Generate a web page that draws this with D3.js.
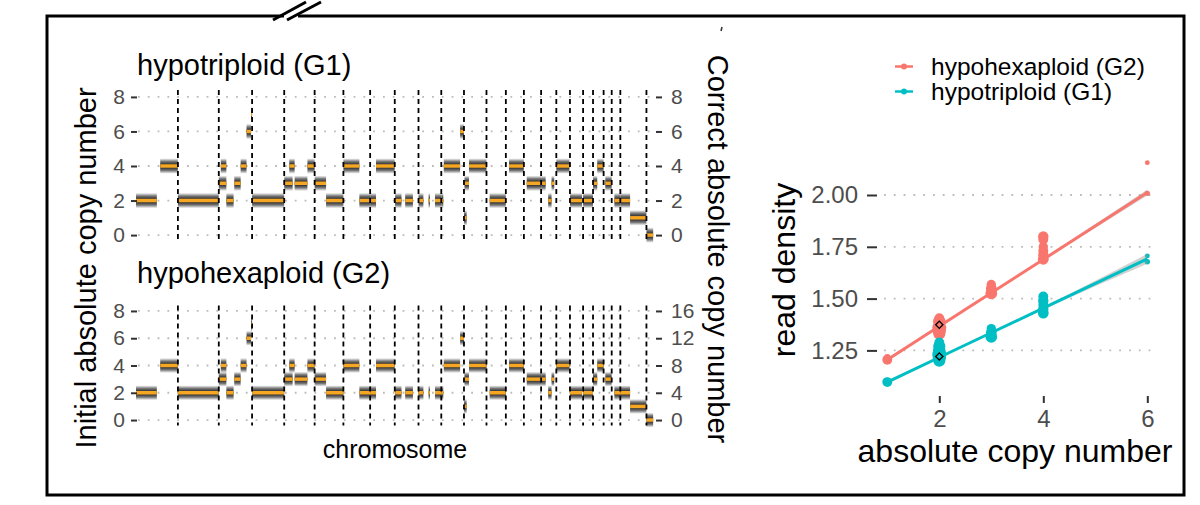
<!DOCTYPE html>
<html>
<head>
<meta charset="utf-8">
<script src="https://d3js.org/d3.v7.min.js"></script>
<style>
body { margin: 0; background: #fff; }
svg text { font-family: "Liberation Sans", Arial, Helvetica, sans-serif; }
</style>
</head>
<body>
<div id="plot"></div>
<script>
// chromosome sizes (hg19, Mb)
var chromNames = ["1","2","3","4","5","6","7","8","9","10","11","12","13","14","15","16","17","18","19","20","21","22","X","Y"];
var chromLengths = [249.25, 243.2, 198.0, 191.15, 180.9, 171.1, 159.1, 146.4, 141.2, 135.5, 135.0, 133.85,
                    115.2, 107.3, 102.5, 90.35, 81.2, 78.1, 59.1, 63.0, 48.1, 51.3, 155.3, 59.4];

// copy number segments: [chromosome, start Mb, end Mb, copy number]
var segments = [
    ["1", 0, 124, 2], ["1", 144, 249, 4],
    ["2", 0, 243, 2],
    ["3", 0, 45, 3], ["3", 12, 45, 4], ["3", 45, 88, 2], ["3", 92, 130, 3], ["3", 130, 165, 4], ["3", 165, 192, 6], ["3", 192, 198, 7],
    ["4", 0, 191, 2],
    ["5", 0, 50, 3], ["5", 30, 62, 4], ["5", 62, 138, 3], ["5", 138, 181, 4],
    ["6", 0, 68, 3], ["6", 68, 171, 2],
    ["7", 0, 95, 4], ["7", 95, 159, 2],
    ["8", 0, 35, 2], ["8", 35, 146, 4],
    ["9", 2, 40, 2], ["9", 62, 108, 2],
    ["10", 0, 29, 2], ["10", 60, 68, 2], ["10", 98, 135, 2],
    ["11", 0, 12, 2], ["11", 15, 112, 4], ["11", 112, 135, 6],
    ["12", 0, 16, 1], ["12", 3, 30, 3], ["12", 30, 134, 4],
    ["13", 19, 115, 2],
    ["14", 19, 107, 4],
    ["15", 17, 102, 3],
    ["16", 0, 27, 3], ["16", 42, 62, 2], ["16", 62, 78, 3],
    ["17", 0, 78, 4],
    ["18", 0, 72, 2],
    ["19", 0, 59, 2],
    ["20", 0, 25, 3], ["20", 25, 63, 4],
    ["21", 10, 48, 3],
    ["22", 16, 51, 2],
    ["X", 0, 58, 2], ["X", 58, 155, 1],
    ["Y", 0, 40, 0]
];

var leftTicks = [0, 2, 4, 6, 8];
var rightTicksG1 = [0, 2, 4, 6, 8];
var rightTicksG2 = [0, 4, 8, 12, 16];

// read density per segment (right panel)
var groups = ["hypohexaploid (G2)", "hypotriploid (G1)"];
var colors = ["#F8766D", "#00BFC4"];
var g2Cn      = [1, 1, 2, 2, 2, 2, 2, 2, 3, 3, 3, 4, 4, 4, 4, 4, 4, 6, 6];
var g2Density = [1.205, 1.218, 1.33, 1.345, 1.36, 1.375, 1.39, 1.405, 1.525, 1.548, 1.568, 1.69, 1.71, 1.73, 1.75, 1.785, 1.80, 2.008, 2.156];
var g2Mb      = [100, 40, 150, 180, 200, 120, 160, 100, 140, 120, 90, 120, 110, 100, 90, 100, 110, 30, 24];
var g1Cn      = [1, 1, 2, 2, 2, 2, 2, 2, 3, 3, 3, 4, 4, 4, 4, 4, 6, 6];
var g1Density = [1.097, 1.103, 1.20, 1.215, 1.23, 1.25, 1.27, 1.288, 1.315, 1.335, 1.355, 1.43, 1.45, 1.47, 1.49, 1.51, 1.678, 1.706];
var g1Mb      = [100, 40, 150, 180, 200, 160, 150, 100, 140, 120, 90, 120, 110, 100, 110, 100, 30, 24];
// fitted lines with confidence band: copy number, fit, lower, upper
var fitCn    = [1, 2.5, 4, 6];
var g2Fit    = [1.205, 1.447, 1.689, 2.012];
var g2Lower  = [1.198, 1.443, 1.684, 1.998];
var g2Upper  = [1.212, 1.451, 1.694, 2.026];
var g1Fit    = [1.097, 1.276, 1.454, 1.692];
var g1Lower  = [1.089, 1.272, 1.448, 1.668];
var g1Upper  = [1.105, 1.280, 1.460, 1.716];
// expected values marked with a diamond
var markCn = [2, 2];
var markDensity = [1.374, 1.221];
var rdTicks = [1.25, 1.50, 1.75, 2.00];
var cnTicks = [2, 4, 6];

var width = 1200, height = 505;
var svg = d3.select("#plot").append("svg").attr("width", width).attr("height", height);

// chromosome offsets
var offsets = {};
var cum = 0;
var boundaries = [];
chromNames.forEach(function(c, i) {
    offsets[c] = cum;
    cum += chromLengths[i];
    if (i < chromNames.length - 1) boundaries.push(cum);
});

var xGenome = d3.scaleLinear().domain([0, 3087]).range([136, 655]);

var defs = svg.append("defs");
var grad = defs.append("linearGradient").attr("id", "cloud")
    .attr("x1", 0).attr("y1", 0).attr("x2", 0).attr("y2", 1);
grad.append("stop").attr("offset", "0%").attr("stop-color", "#444").attr("stop-opacity", 0);
grad.append("stop").attr("offset", "20%").attr("stop-color", "#222").attr("stop-opacity", 0.6);
grad.append("stop").attr("offset", "50%").attr("stop-color", "#000").attr("stop-opacity", 1);
grad.append("stop").attr("offset", "80%").attr("stop-color", "#222").attr("stop-opacity", 0.6);
grad.append("stop").attr("offset", "100%").attr("stop-color", "#444").attr("stop-opacity", 0);

function styleAxis(g, size) {
    g.select(".domain").remove();
    g.selectAll(".tick line").attr("stroke", "#333").attr("stroke-width", 2);
    g.selectAll(".tick text").attr("fill", "#4d4d4d").style("font-size", size + "px");
}

function plotGenome(top, bottom, title, titleY, rightTicks, spread) {
    var y = d3.scaleLinear().domain([-0.4, 8.4]).range([bottom, top]);
    var yRight = d3.scaleLinear().domain([-0.4 * rightTicks[4] / 8, 8.4 * rightTicks[4] / 8]).range([bottom, top]);
    var g = svg.append("g");

    g.selectAll(".grid").data(leftTicks).enter().append("line")
        .attr("x1", 138).attr("x2", 656)
        .attr("y1", function(d) { return y(d); }).attr("y2", function(d) { return y(d); })
        .attr("stroke", "#bbb").attr("stroke-width", 1.8).attr("stroke-dasharray", "1.8,8");

    g.selectAll(".band").data(segments).enter().append("rect")
        .attr("x", function(d) { return xGenome(offsets[d[0]] + d[1]); })
        .attr("width", function(d) { return xGenome(offsets[d[0]] + d[2]) - xGenome(offsets[d[0]] + d[1]); })
        .attr("y", function(d) { return y(d[3] + spread); })
        .attr("height", function(d) { return y(d[3] - spread) - y(d[3] + spread); })
        .attr("fill", "url(#cloud)");

    g.selectAll(".seg").data(segments).enter().append("line")
        .attr("x1", function(d) { return xGenome(offsets[d[0]] + d[1]); })
        .attr("x2", function(d) { return xGenome(offsets[d[0]] + d[2]); })
        .attr("y1", function(d) { return y(d[3]); }).attr("y2", function(d) { return y(d[3]); })
        .attr("stroke", "#F5A623").attr("stroke-width", 3.5);

    g.selectAll(".chr").data(boundaries).enter().append("line")
        .attr("x1", function(d) { return xGenome(d); }).attr("x2", function(d) { return xGenome(d); })
        .attr("y1", top).attr("y2", bottom)
        .attr("stroke", "#000").attr("stroke-width", 1.8).attr("stroke-dasharray", "5,4");

    g.append("g").attr("transform", "translate(137,0)")
        .call(d3.axisLeft(y).tickValues(leftTicks).tickSize(6).tickPadding(6))
        .call(styleAxis, 21);
    g.append("g").attr("transform", "translate(656,0)")
        .call(d3.axisRight(yRight).tickValues(rightTicks).tickSize(6).tickPadding(9))
        .call(styleAxis, 21);

    g.append("text").attr("x", 137).attr("y", titleY)
        .style("font-size", "29px").attr("fill", "#000").text(title);
}

plotGenome(90, 242, "hypotriploid (G1)", 75, rightTicksG1, 0.45);
plotGenome(305.5, 425.5, "hypohexaploid (G2)", 283, rightTicksG2, 0.55);

svg.append("text").attr("x", 395).attr("y", 458).attr("text-anchor", "middle")
    .style("font-size", "25px").text("chromosome");
svg.append("text").attr("transform", "translate(96,268) rotate(-90)").attr("text-anchor", "middle")
    .style("font-size", "29px").text("Initial absolute copy number");
svg.append("text").attr("transform", "translate(708,249) rotate(90)").attr("text-anchor", "middle")
    .style("font-size", "29px").text("Correct absolute copy number");

// right panel
var xCn = d3.scaleLinear().domain([1, 6]).range([887.3, 1147.3]);
var yRd = d3.scaleLinear().domain([1.25, 2.00]).range([350.4, 195]);
var rScale = d3.scaleSqrt().domain([0, 200]).range([0, 7]);

var rp = svg.append("g");
rp.selectAll(".rgrid").data(rdTicks).enter().append("line")
    .attr("x1", 884).attr("x2", 1158)
    .attr("y1", function(d) { return yRd(d); }).attr("y2", function(d) { return yRd(d); })
    .attr("stroke", "#bbb").attr("stroke-width", 1.8).attr("stroke-dasharray", "1.8,8");

var fits = [
    { fit: g2Fit, lo: g2Lower, hi: g2Upper, color: colors[0] },
    { fit: g1Fit, lo: g1Lower, hi: g1Upper, color: colors[1] }
];
var sets = [
    { cn: g2Cn, rd: g2Density, mb: g2Mb, color: colors[0] },
    { cn: g1Cn, rd: g1Density, mb: g1Mb, color: colors[1] }
];

sets.forEach(function(s) {
    rp.append("g").selectAll("circle").data(s.cn).enter().append("circle")
        .attr("cx", function(d) { return xCn(d); })
        .attr("cy", function(d, i) { return yRd(s.rd[i]); })
        .attr("r", function(d, i) { return rScale(s.mb[i]); })
        .attr("fill", s.color);
});

fits.forEach(function(f) {
    var area = d3.area()
        .x(function(d) { return xCn(d); })
        .y0(function(d, i) { return yRd(f.lo[i]); })
        .y1(function(d, i) { return yRd(f.hi[i]); })
        .curve(d3.curveMonotoneX);
    rp.append("path").datum(fitCn).attr("d", area).attr("fill", "#999").attr("opacity", 0.45);
    var line = d3.line()
        .x(function(d) { return xCn(d); })
        .y(function(d, i) { return yRd(f.fit[i]); });
    rp.append("path").datum(fitCn).attr("d", line)
        .attr("fill", "none").attr("stroke", f.color).attr("stroke-width", 3);
});

rp.selectAll(".mark").data(markCn).enter().append("path")
    .attr("d", d3.symbol().type(d3.symbolSquare).size(26))
    .attr("transform", function(d, i) { return "translate(" + xCn(d) + "," + yRd(markDensity[i]) + ") rotate(45)"; })
    .attr("fill", "none").attr("stroke", "#000").attr("stroke-width", 1.3);

rp.append("g").attr("transform", "translate(877,0)")
    .call(d3.axisLeft(yRd).tickValues(rdTicks).tickFormat(d3.format(".2f")).tickSize(10).tickPadding(9))
    .call(styleAxis, 24);
rp.append("g").attr("transform", "translate(0,396)")
    .call(d3.axisBottom(xCn).tickValues(cnTicks).tickFormat(d3.format("d")).tickSize(7).tickPadding(7))
    .call(styleAxis, 24);

rp.append("text").attr("x", 1015).attr("y", 462).attr("text-anchor", "middle")
    .style("font-size", "32px").text("absolute copy number");
rp.append("text").attr("transform", "translate(795,270) rotate(-90)").attr("text-anchor", "middle")
    .style("font-size", "32px").text("read density");

// legend
var legend = rp.selectAll(".leg").data(groups).enter().append("g")
    .attr("transform", function(d, i) { return "translate(895," + (66.5 + i * 25) + ")"; });
legend.append("line").attr("x1", 0).attr("x2", 18)
    .attr("stroke", function(d, i) { return colors[i]; }).attr("stroke-width", 2.5);
legend.append("circle").attr("cx", 9).attr("r", 3)
    .attr("fill", function(d, i) { return colors[i]; });
legend.append("text").attr("x", 36).attr("y", 8)
    .style("font-size", "24.5px").text(function(d) { return d; });

// outer frame with break mark
svg.append("rect").attr("x", 47).attr("y", 16).attr("width", 1137).attr("height", 479)
    .attr("fill", "none").attr("stroke", "#000").attr("stroke-width", 3);
svg.append("rect").attr("x", 284).attr("y", 12).attr("width", 14).attr("height", 8).attr("fill", "#fff");
svg.append("line").attr("x1", 273).attr("y1", 20).attr("x2", 306).attr("y2", 2)
    .attr("stroke", "#000").attr("stroke-width", 3);
svg.append("line").attr("x1", 287).attr("y1", 20).attr("x2", 321).attr("y2", 2)
    .attr("stroke", "#000").attr("stroke-width", 3);
svg.append("line").attr("x1", 722).attr("y1", 27).attr("x2", 721).attr("y2", 31)
    .attr("stroke", "#333").attr("stroke-width", 1.5);
</script>
</body>
</html>
